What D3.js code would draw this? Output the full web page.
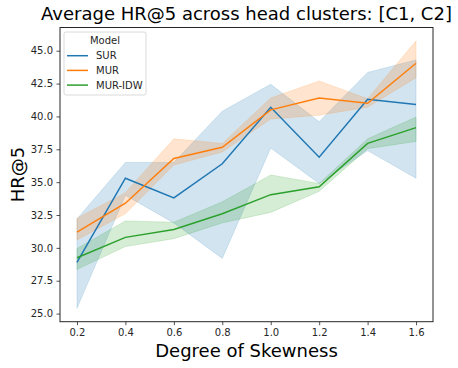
<!DOCTYPE html>
<html>
<head>
<meta charset="utf-8">
<script src="https://cdn.jsdelivr.net/npm/d3@7"></script>
<style>
  body { margin: 0; background: #fff; }
  svg { display: block; font-family: "DejaVu Sans", sans-serif; }
</style>
</head>
<body>
<svg id="plot"></svg>
<script>
const width = 458;
const height = 368;
const margin = {left: 60, right: 25, top: 27.5, bottom: 46.3};

const skew = [0.2, 0.4, 0.6, 0.8, 1.0, 1.2, 1.4, 1.6];
const models = ['SUR', 'MUR', 'MUR-IDW'];
const colors = ['#1f77b4', '#ff7f0e', '#2ca02c'];

// mean line + lower/upper edge of the confidence band
const surMean  = [28.9, 35.3, 33.8, 36.4, 40.7, 36.9, 41.3, 40.9];
const surLow   = [25.4, 34.0, 31.9, 29.2, 37.6, 34.9, 37.4, 35.3];
const surHigh  = [32.2, 36.5, 36.5, 40.4, 42.45, 39.6, 43.35, 44.3];
const murMean  = [31.2, 33.4, 36.8, 37.65, 40.5, 41.4, 41.0, 44.05];
const murLow   = [30.6, 32.6, 36.3, 37.3, 39.8, 40.1, 40.7, 42.95];
const murHigh  = [32.25, 34.2, 38.3, 37.95, 41.4, 42.7, 41.35, 45.75];
const idwMean  = [29.25, 30.8, 31.4, 32.6, 34.05, 34.65, 37.95, 39.15];
const idwLow   = [28.35, 30.1, 30.7, 31.9, 32.7, 34.3, 37.55, 38.1];
const idwHigh  = [29.95, 32.05, 31.95, 33.5, 35.55, 34.9, 38.3, 39.95];

const xTicks = [0.2, 0.4, 0.6, 0.8, 1.0, 1.2, 1.4, 1.6];
const yTicks = [25.0, 27.5, 30.0, 32.5, 35.0, 37.5, 40.0, 42.5, 45.0];

function main(){
  let series = [
    {name: models[0], color: colors[0], mean: surMean, low: surLow, high: surHigh},
    {name: models[1], color: colors[1], mean: murMean, low: murLow, high: murHigh},
    {name: models[2], color: colors[2], mean: idwMean, low: idwLow, high: idwHigh}
  ];

  let svg = d3.select('svg#plot')
  .attr('width', width)
  .attr('height', height);

  // matplotlib style 5% padding around the data
  let xmin = d3.min(skew), xmax = d3.max(skew);
  let xpad = (xmax - xmin) * 0.05;
  let ymin = d3.min(series, s => d3.min(s.low));
  let ymax = d3.max(series, s => d3.max(s.high));
  let ypad = (ymax - ymin) * 0.05;

  let sx = d3.scaleLinear()
  .domain([xmin - xpad, xmax + xpad])
  .range([margin.left, width - margin.right]);

  let sy = d3.scaleLinear()
  .domain([ymin - ypad, ymax + ypad])
  .range([height - margin.bottom, margin.top]);

  let area = d3.area()
  .x((d, i) => sx(skew[i]))
  .y0(d => sy(d[0]))
  .y1(d => sy(d[1]));

  let line = d3.line()
  .x((d, i) => sx(skew[i]))
  .y(d => sy(d));

  // bands first, then lines on top
  svg.selectAll('.band')
  .data(series)
  .enter()
  .append('path')
  .attr('class', 'band')
  .attr('d', s => area(s.low.map((v, i) => [v, s.high[i]])))
  .attr('fill', s => s.color)
  .attr('fill-opacity', 0.2)
  .attr('stroke', s => s.color)
  .attr('stroke-opacity', 0.2)
  .attr('stroke-width', 0.8);

  svg.selectAll('.line')
  .data(series)
  .enter()
  .append('path')
  .attr('class', 'line')
  .attr('d', s => line(s.mean))
  .attr('fill', 'none')
  .attr('stroke', s => s.color)
  .attr('stroke-width', 1.5);

  let ax = d3.axisBottom(sx)
  .tickValues(xTicks)
  .tickFormat(d3.format('.1f'))
  .tickSizeInner(3.5)
  .tickSizeOuter(0)
  .tickPadding(3.5);
  let gx = svg.append('g')
  .attr('transform', `translate(0,${height - margin.bottom})`)
  .call(ax);

  let ay = d3.axisLeft(sy)
  .tickValues(yTicks)
  .tickFormat(d3.format('.1f'))
  .tickSizeInner(3.5)
  .tickSizeOuter(0)
  .tickPadding(3.5);
  let gy = svg.append('g')
  .attr('transform', `translate(${margin.left},0)`)
  .call(ay);

  [gx, gy].forEach(g => {
    g.select('.domain').remove();
    g.selectAll('text')
    .attr('font-family', '"DejaVu Sans", sans-serif')
    .attr('font-size', 10)
    .attr('fill', '#262626');
    g.selectAll('line').attr('stroke', '#262626').attr('stroke-width', 0.8);
  });

  // axes frame
  svg.append('rect')
  .attr('x', margin.left)
  .attr('y', margin.top)
  .attr('width', width - margin.left - margin.right)
  .attr('height', height - margin.top - margin.bottom)
  .attr('fill', 'none')
  .attr('stroke', '#262626')
  .attr('stroke-width', 1);

  let cx = (margin.left + width - margin.right) / 2;
  svg.append('text')
  .attr('x', cx)
  .attr('y', 20)
  .attr('text-anchor', 'middle')
  .attr('font-size', 18)
  .attr('fill', '#000')
  .text('Average HR@5 across head clusters: [C1, C2]');

  svg.append('text')
  .attr('x', cx)
  .attr('y', 357)
  .attr('text-anchor', 'middle')
  .attr('font-size', 18)
  .attr('fill', '#000')
  .text('Degree of Skewness');

  svg.append('text')
  .attr('transform', `translate(24,${(margin.top + height - margin.bottom) / 2}) rotate(-90)`)
  .attr('text-anchor', 'middle')
  .attr('font-size', 18)
  .attr('fill', '#000')
  .text('HR@5');

  // legend
  let lg = svg.append('g').attr('transform', 'translate(64,32)');
  lg.append('rect')
  .attr('width', 82)
  .attr('height', 63)
  .attr('rx', 2)
  .attr('fill', '#fff')
  .attr('fill-opacity', 0.8)
  .attr('stroke', '#d0d0d0')
  .attr('stroke-width', 0.8);
  lg.append('text')
  .attr('x', 41)
  .attr('y', 11.5)
  .attr('text-anchor', 'middle')
  .attr('font-size', 10)
  .attr('fill', '#262626')
  .text('Model');
  let items = lg.selectAll('.item')
  .data(series)
  .enter()
  .append('g')
  .attr('class', 'item')
  .attr('transform', (d, i) => `translate(0,${23.7 + i * 14.7})`);
  items.append('line')
  .attr('x1', 3).attr('x2', 24)
  .attr('stroke', d => d.color)
  .attr('stroke-width', 1.5);
  items.append('text')
  .attr('x', 32)
  .attr('y', 3.6)
  .attr('font-size', 10)
  .attr('fill', '#262626')
  .text(d => d.name);
}

document.addEventListener('DOMContentLoaded', main);
</script>
</body>
</html>
